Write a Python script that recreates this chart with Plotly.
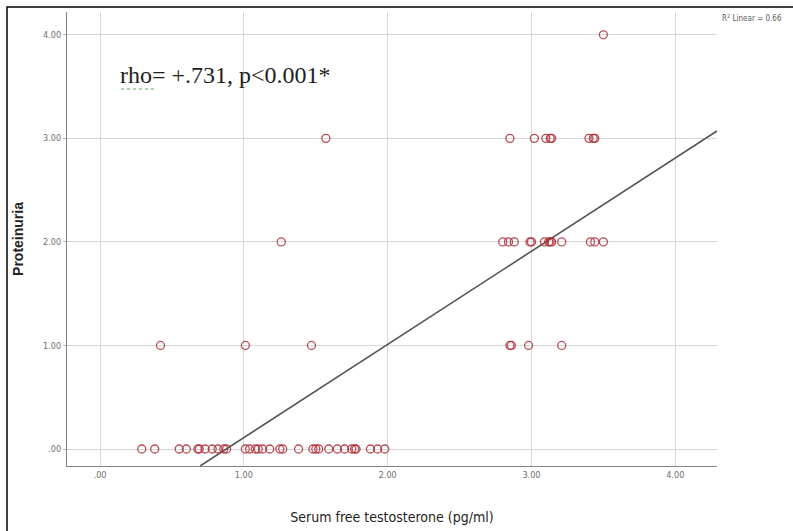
import plotly.graph_objects as go

# Data
x_p0 = [0.29, 0.38, 0.55, 0.60, 0.68, 0.69, 0.73, 0.78, 0.82, 0.86, 0.88, 1.01, 1.04,
        1.08, 1.10, 1.13, 1.18, 1.25, 1.27, 1.38, 1.48, 1.50, 1.52, 1.59, 1.65, 1.70,
        1.75, 1.77, 1.78, 1.88, 1.93, 1.98]
x_p1 = [0.42, 1.01, 1.47, 2.85, 2.86, 2.98, 3.21]
x_p2 = [1.26, 2.80, 2.84, 2.88, 2.99, 3.00, 3.09, 3.12, 3.13, 3.14, 3.21, 3.41, 3.44, 3.50]
x_p3 = [1.57, 2.85, 3.02, 3.10, 3.13, 3.14, 3.40, 3.43, 3.44]
x_p4 = [3.50]
levels = [0, 1, 2, 3, 4]

fit_slope = 0.90
fit_intercept = -0.79
r2_label = "R<sup>2</sup> Linear = 0.66"
annot_text = "rho= +.731, p<0.001*"

x_ticks = [0, 1, 2, 3, 4]
x_tick_labels = [".00", "1.00", "2.00", "3.00", "4.00"]
y_ticks = [0, 1, 2, 3, 4]
y_tick_labels = [".00", "1.00", "2.00", "3.00", "4.00"]

x_range = [-0.23, 4.29]
y_range = [-0.164, 4.22]

xs, ys = [], []
for lvl, arr in zip(levels, [x_p0, x_p1, x_p2, x_p3, x_p4]):
    xs += arr
    ys += [lvl] * len(arr)

narrow = "DejaVu Sans Condensed, Liberation Sans Narrow, sans-serif"

L, R, T, B = 67, 76, 12, 65
W, H = 793, 531
PW, PH = W - L - R, H - T - B


def px(xp):
    return (xp - L) / PW


def py(yp):
    return 1 - (yp - T) / PH


fig = go.Figure()

# regression line clipped to plot area
x_start = (y_range[0] - fit_intercept) / fit_slope
x_end = x_range[1]
fig.add_trace(go.Scatter(
    x=[x_start, x_end],
    y=[fit_slope * x_start + fit_intercept, fit_slope * x_end + fit_intercept],
    mode="lines", line=dict(color="rgb(85,85,85)", width=1.6),
    hoverinfo="skip", showlegend=False))

fig.add_trace(go.Scatter(
    x=xs, y=ys, mode="markers",
    marker=dict(symbol="circle-open", size=8, color="rgba(175,45,55,0.85)",
                line=dict(width=1.3)),
    showlegend=False))

fig.update_layout(
    width=W, height=H,
    paper_bgcolor="white", plot_bgcolor="white",
    margin=dict(l=L, r=R, t=T, b=B, autoexpand=False),
    xaxis=dict(range=x_range, tickvals=x_ticks, ticktext=x_tick_labels, automargin=False,
               showgrid=True, gridcolor="rgb(215,215,215)", gridwidth=1,
               zeroline=False, showline=True, linecolor="rgb(130,130,130)", linewidth=1.2,
               ticks="", tickfont=dict(family=narrow, size=9, color="rgb(110,110,110)"),
               title=dict(text="Serum free testosterone (pg/ml)", standoff=33,
                          font=dict(family=narrow, size=14, color="rgb(30,30,30)"))),
    yaxis=dict(range=y_range, tickvals=y_ticks, ticktext=y_tick_labels, automargin=False,
               showgrid=True, gridcolor="rgb(215,215,215)", gridwidth=1,
               zeroline=False, showline=True, linecolor="rgb(130,130,130)", linewidth=1.2,
               ticks="outside", ticklen=3, tickcolor="rgb(180,180,180)",
               tickfont=dict(family=narrow, size=9, color="rgb(110,110,110)"),
               title=dict(text="<b>Proteinuria</b>", standoff=16,
                          font=dict(family="Liberation Sans, Arial, sans-serif", size=14,
                                    color="rgb(35,35,35)"))),
    font=dict(family=narrow),
)

# main annotation
fig.add_annotation(x=px(118), y=py(75), xref="paper", yref="paper", text=annot_text,
                   showarrow=False, xanchor="left", yanchor="middle",
                   font=dict(family="Liberation Serif, Times New Roman, serif", size=24,
                             color="rgb(30,30,30)"))

fig.add_annotation(x=px(720), y=py(18), xref="paper", yref="paper",
                   text=r2_label, showarrow=False, xanchor="left", yanchor="middle",
                   font=dict(family=narrow, size=8, color="rgb(90,90,90)"))

# green spell-check underline under "rho"
fig.add_shape(type="line", xref="paper", yref="paper",
              x0=px(121), x1=px(156), y0=py(89), y1=py(89),
              line=dict(color="rgb(90,170,90)", width=1.2, dash="dot"))

# outer black frame
fig.add_shape(type="rect", xref="paper", yref="paper",
              x0=px(7), x1=px(800), y0=py(540), y1=py(7),
              line=dict(color="black", width=1.5), fillcolor="rgba(0,0,0,0)", layer="below")

fig.write_html("out.html", config={"displayModeBar": False},
               post_script="document.body.style.margin='0';document.body.style.overflow='hidden';")
